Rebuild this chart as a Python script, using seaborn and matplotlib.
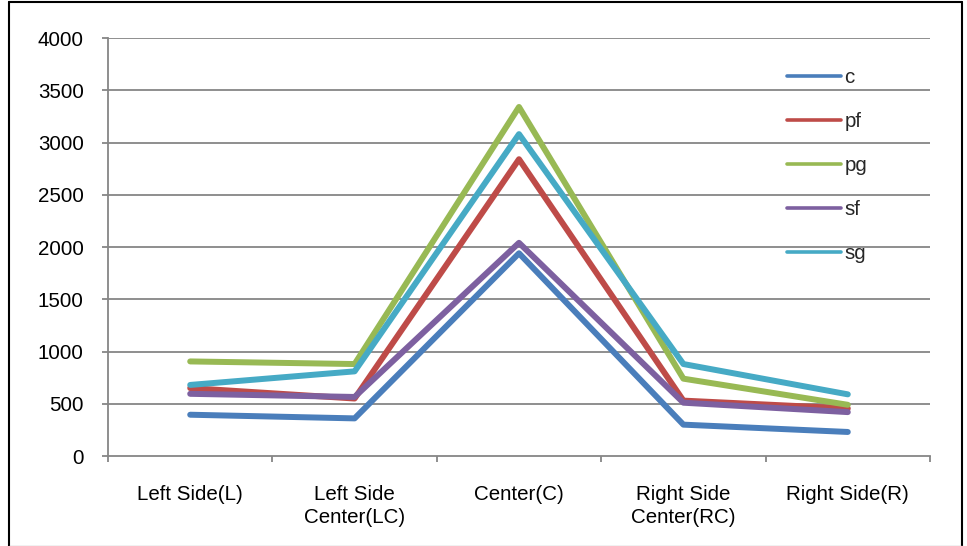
import matplotlib
matplotlib.use("Agg")
import matplotlib.pyplot as plt
from matplotlib.lines import Line2D
import numpy as np
import pandas as pd
import seaborn as sns

# Court zones along the x axis
zones = ["Left Side(L)", "Left Side\nCenter(LC)", "Center(C)",
         "Right Side\nCenter(RC)", "Right Side(R)"]

# Values per position group, one list per series
c_vals = [395, 360, 1940, 300, 230]
pf_vals = [650, 550, 2840, 530, 455]
pg_vals = [905, 880, 3340, 740, 490]
sf_vals = [595, 565, 2040, 510, 420]
sg_vals = [680, 810, 3080, 880, 590]

series_names = ["c", "pf", "pg", "sf", "sg"]
series_vals = [c_vals, pf_vals, pg_vals, sf_vals, sg_vals]
colors = ["#4A7EBB", "#BE4B48", "#98B954", "#7D60A0", "#46AAC5"]

y_ticks = [0, 500, 1000, 1500, 2000, 2500, 3000, 3500, 4000]

rows = []
for name, vals in zip(series_names, series_vals):
    for i, v in enumerate(vals):
        rows.append({"zone": i, "value": v, "series": name})
df = pd.DataFrame(rows)

sns.set_theme(style="white")
plt.rcParams["font.family"] = ["Liberation Sans", "DejaVu Sans"]

FS = 14.8

fig = plt.figure(figsize=(9.67, 5.46), dpi=100)
ax = fig.add_axes([108 / 967, 1 - 456 / 546, (930 - 108) / 967, (456 - 38) / 546])

sns.lineplot(data=df, x="zone", y="value", hue="series", hue_order=series_names,
             palette=colors, linewidth=4.3, ax=ax, legend=False,
             solid_capstyle="round", solid_joinstyle="round")

grid_col = "#868686"
ax.set_xlim(-0.5, 4.5)
ax.set_ylim(0, 4000)
ax.set_yticks(y_ticks)
ax.set_yticklabels([str(t) for t in y_ticks])
for t in y_ticks[1:]:
    ax.axhline(t, color=grid_col, lw=1.3, zorder=0)

# Category boundaries carry the tick marks, labels sit at the centres
ax.set_xticks(np.arange(-0.5, 5.0, 1.0))
ax.set_xticklabels([])
ax.set_xticks(np.arange(5), minor=True)
ax.set_xticklabels(zones, minor=True)
ax.tick_params(axis="x", which="major", direction="out", length=4, width=1.3,
               color=grid_col, bottom=True)
ax.tick_params(axis="x", which="minor", length=0, pad=21, labelsize=FS,
               labelcolor="black")
ax.tick_params(axis="y", direction="out", length=4.5, width=1.3, color=grid_col,
               left=True, pad=13, labelsize=FS, labelcolor="black")
for lbl in ax.get_xticklabels(minor=True):
    lbl.set_linespacing(1.27)
    lbl.set_verticalalignment("top")

ax.set_xlabel("")
ax.set_ylabel("")
for side in ["top", "right"]:
    ax.spines[side].set_visible(False)
for side in ["left", "bottom"]:
    ax.spines[side].set_color(grid_col)
    ax.spines[side].set_linewidth(1.3)

handles = [Line2D([], [], color=col, lw=2.6, solid_capstyle="round")
           for col in colors]
ax.legend(handles, series_names, loc="upper left",
          bbox_to_anchor=(787 / 967, 1 - 68 / 546), bbox_transform=fig.transFigure,
          frameon=False, fontsize=FS, handlelength=2.65, handletextpad=0.15,
          labelspacing=1.22, borderaxespad=0, borderpad=0)

# Outer chart frame
fig.add_artist(Line2D([9 / 967, 9 / 967], [0, 1 - 2 / 546], color="black", lw=1.5,
                      transform=fig.transFigure))
fig.add_artist(Line2D([9 / 967, 962 / 967], [1 - 2 / 546, 1 - 2 / 546], color="black",
                      lw=1.5, transform=fig.transFigure))
fig.add_artist(Line2D([962 / 967, 962 / 967], [0, 1 - 2 / 546], color="black", lw=1.5,
                      transform=fig.transFigure))
fig.add_artist(Line2D([9 / 967, 962 / 967], [0.5 / 546, 0.5 / 546], color="#BBBBBB",
                      lw=1.0, transform=fig.transFigure))

fig.savefig("out.png", dpi=100)
